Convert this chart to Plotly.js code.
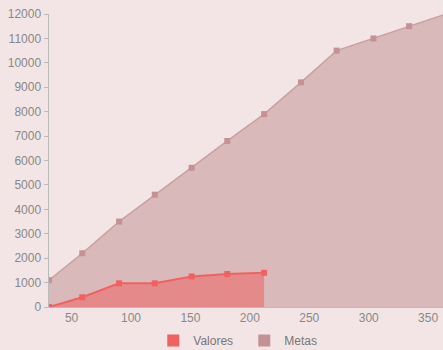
<!DOCTYPE html>
<html><head><meta charset="utf-8">
<script src="https://cdn.plot.ly/plotly-3.0.1.min.js"></script>
<style>html,body{margin:0;padding:0;background:#f3e5e5;}#c{width:443px;height:350px;}</style>
</head><body><div id="c"></div>
<script>
const days = [31, 59, 90, 120, 151, 181, 212, 243, 273, 304, 334, 365];
const valoresDays = [31, 59, 90, 120, 151, 181, 212];
const valores = [0, 400, 970, 970, 1250, 1350, 1400];
const metas = [1100, 2200, 3500, 4600, 5700, 6800, 7900, 9200, 10500, 11000, 11500, 12000];
const xTicks = [50, 100, 150, 200, 250, 300, 350];
const yTicks = [0,1000,2000,3000,4000,5000,6000,7000,8000,9000,10000,11000,12000];

const traces = [
  {x: days, y: metas, type:'scatter', mode:'lines+markers', fill:'tozeroy',
   fillcolor:'#dab9bb', line:{color:'#c9a0a2', width:1.5},
   marker:{symbol:'square', size:6, color:'#c49294'}, showlegend:false, name:'Metas'},
  {x: valoresDays, y: valores, type:'scatter', mode:'lines+markers', fill:'tozeroy',
   fillcolor:'#e58a8a', line:{color:'#f06262', width:2},
   marker:{symbol:'square', size:6, color:'#f06262'}, showlegend:false, name:'Valores'},
  {x:[null], y:[null], type:'scatter', mode:'markers', name:'Valores',
   marker:{symbol:'square', size:12, color:'#f06262'}},
  {x:[null], y:[null], type:'scatter', mode:'markers', name:'Metas',
   marker:{symbol:'square', size:12, color:'#c49294'}}
];
const layout = {
  width:443, height:350,
  paper_bgcolor:'#f3e5e5', plot_bgcolor:'#f3e5e5',
  margin:{l:49, r:0, t:14, b:43},
  font:{family:'Liberation Sans, Arial, sans-serif', size:12, color:'#888'},
  xaxis:{range:[31,362.5], tickvals:xTicks, ticktext:xTicks.map(String), showgrid:false, zeroline:false,
         showline:true, linecolor:'#bbb', linewidth:1, ticks:'', tickfont:{color:'#888', size:12}},
  yaxis:{range:[0,12000], tickvals:yTicks, ticktext:yTicks.map(String), showgrid:false, zeroline:false,
         showline:true, linecolor:'#bbb', linewidth:1.5, ticks:'outside', ticklen:4, tickcolor:'#bbb',
         tickfont:{color:'#888', size:12}},
  showlegend:true,
  legend:{orientation:'h', xref:'container', yref:'container', x:0.346, xanchor:'left', y:0.027, yanchor:'middle',
          font:{color:'#777', size:12}, bgcolor:'rgba(0,0,0,0)', traceorder:'normal',
          entrywidth:46, entrywidthmode:'pixels'}
};
Plotly.newPlot('c', traces, layout, {displayModeBar:false, staticPlot:true});
</script></body></html>
